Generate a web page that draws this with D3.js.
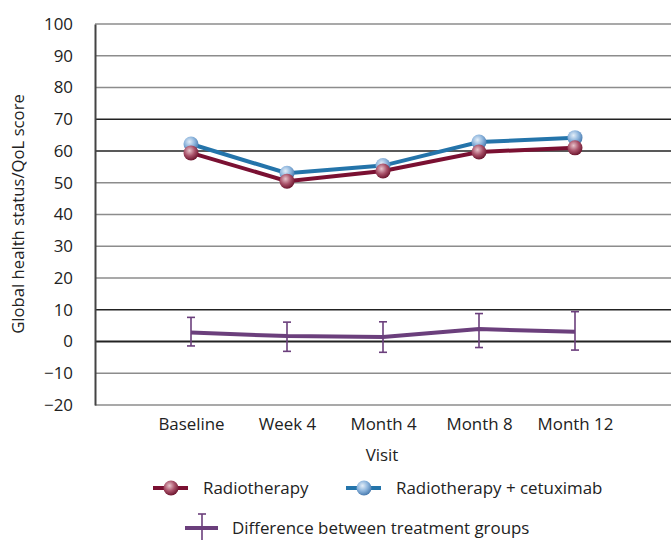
<!DOCTYPE html>
<html lang="en">
<head>
<meta charset="UTF-8">
<title>Global health status/QoL score</title>
<script src="https://d3js.org/d3.v7.min.js"></script>
<style>
    body { margin: 0; background: #fff; font-family: "Open Sans", sans-serif; }
    text { fill: #222; }
</style>
</head>
<body>
<div id="chart"></div>
<script>
    // Data
    const visits = ["Baseline", "Week 4", "Month 4", "Month 8", "Month 12"];
    const radiotherapy = [59.4, 50.5, 53.7, 59.7, 61.0];
    const combined = [62.2, 53.0, 55.4, 62.8, 64.2];
    const diffMid = [2.8, 1.7, 1.4, 3.9, 3.1];
    const diffLow = [-1.4, -3.1, -3.4, -1.9, -2.7];
    const diffHigh = [7.6, 6.1, 6.2, 8.8, 9.4];
    const yTicks = [100, 90, 80, 70, 60, 50, 40, 30, 20, 10, 0, -10, -20];
    const darkTicks = [70, 60, 10, 0];

    const W = 671, H = 540;
    const plotL = 95, plotR = 671, plotT = 24, plotB = 405;
    const fs = 16.9;

    const svg = d3.select("#chart").append("svg")
        .attr("width", W).attr("height", H);

    const defs = svg.append("defs");
    function sphere(id, light, mid, dark) {
        const g = defs.append("radialGradient").attr("id", id)
            .attr("cx", "40%").attr("cy", "35%").attr("r", "65%");
        g.append("stop").attr("offset", "0%").attr("stop-color", light);
        g.append("stop").attr("offset", "55%").attr("stop-color", mid);
        g.append("stop").attr("offset", "100%").attr("stop-color", dark);
    }
    sphere("gRed", "#e8c4cc", "#a85068", "#6e1830");
    sphere("gBlue", "#e4eef8", "#8cb4dc", "#4a7cb0");

    const x = d3.scalePoint().domain(visits).range([plotL, plotR]).padding(1);
    const y = d3.scaleLinear().domain([-20, 100]).range([plotB, plotT]);

    // grid lines
    svg.append("g").selectAll("line").data(yTicks).join("line")
        .attr("x1", plotL).attr("x2", plotR)
        .attr("y1", d => y(d)).attr("y2", d => y(d))
        .attr("stroke", d => darkTicks.includes(d) ? "#222" : "#8c8c8c")
        .attr("stroke-width", d => d === 0 ? 2.2 : 1.4);

    // y axis
    const yAxis = svg.append("g").attr("transform", `translate(${plotL},0)`)
        .call(d3.axisLeft(y).tickValues(yTicks).tickSize(0).tickPadding(22)
            .tickFormat(d => d < 0 ? "\u2212" + Math.abs(d) : d));
    yAxis.select(".domain").attr("stroke", "#444").attr("stroke-width", 2);
    yAxis.selectAll("text").attr("font-size", fs).attr("font-family", "Open Sans").attr("fill", "#222");

    // x labels
    const xAxis = svg.append("g").attr("transform", `translate(0,${plotB})`)
        .call(d3.axisBottom(x).tickSize(0).tickPadding(13));
    xAxis.select(".domain").remove();
    xAxis.selectAll("text").attr("font-size", fs).attr("font-family", "Open Sans").attr("fill", "#222");

    svg.append("text").attr("x", 382).attr("y", 461).attr("text-anchor", "middle")
        .attr("font-size", fs).text("Visit");
    svg.append("text").attr("transform", "translate(24,214) rotate(-90)")
        .attr("text-anchor", "middle").attr("font-size", 16.7)
        .text("Global health status/QoL score");

    // difference series with error bars
    const line = d3.line().x((d, i) => x(visits[i])).y(d => y(d));
    const purple = "#6b3f7c";
    const eb = svg.append("g");
    visits.forEach((v, i) => {
        const cx = x(v);
        eb.append("line").attr("x1", cx).attr("x2", cx)
            .attr("y1", y(diffHigh[i])).attr("y2", y(diffLow[i]))
            .attr("stroke", purple).attr("stroke-width", 1.6);
        [diffHigh[i], diffLow[i]].forEach(e => {
            eb.append("line").attr("x1", cx - 4).attr("x2", cx + 4)
                .attr("y1", y(e)).attr("y2", y(e))
                .attr("stroke", purple).attr("stroke-width", 1.6);
        });
    });
    svg.append("path").datum(diffMid).attr("d", line)
        .attr("fill", "none").attr("stroke", purple).attr("stroke-width", 4);

    // treatment series
    const series = [
        { vals: combined, color: "#2474aa", grad: "gBlue" },
        { vals: radiotherapy, color: "#7a1032", grad: "gRed" }
    ];
    series.forEach(s => {
        svg.append("path").datum(s.vals).attr("d", line)
            .attr("fill", "none").attr("stroke", s.color).attr("stroke-width", 4);
    });
    series.forEach(s => {
        svg.append("g").selectAll("circle").data(s.vals).join("circle")
            .attr("cx", (d, i) => x(visits[i])).attr("cy", d => y(d))
            .attr("r", 7.5).attr("fill", `url(#${s.grad})`);
    });

    // legend
    const lg = svg.append("g");
    function legendItem(x0, yy, color, grad, label) {
        lg.append("line").attr("x1", x0).attr("x2", x0 + 35).attr("y1", yy).attr("y2", yy)
            .attr("stroke", color).attr("stroke-width", 4);
        lg.append("circle").attr("cx", x0 + 18).attr("cy", yy).attr("r", 7.5)
            .attr("fill", `url(#${grad})`);
        lg.append("text").attr("x", x0 + 50).attr("y", yy + 6).attr("font-size", fs).text(label);
    }
    legendItem(153, 488, "#7a1032", "gRed", "Radiotherapy");
    legendItem(346, 488, "#2474aa", "gBlue", "Radiotherapy + cetuximab");

    lg.append("line").attr("x1", 185).attr("x2", 218).attr("y1", 528).attr("y2", 528)
        .attr("stroke", purple).attr("stroke-width", 4);
    lg.append("line").attr("x1", 202).attr("x2", 202).attr("y1", 514).attr("y2", 540)
        .attr("stroke", purple).attr("stroke-width", 1.6);
    lg.append("line").attr("x1", 198).attr("x2", 206).attr("y1", 514).attr("y2", 514)
        .attr("stroke", purple).attr("stroke-width", 1.6);
    lg.append("text").attr("x", 232).attr("y", 534).attr("font-size", fs)
        .text("Difference between treatment groups");
</script>
</body>
</html>
